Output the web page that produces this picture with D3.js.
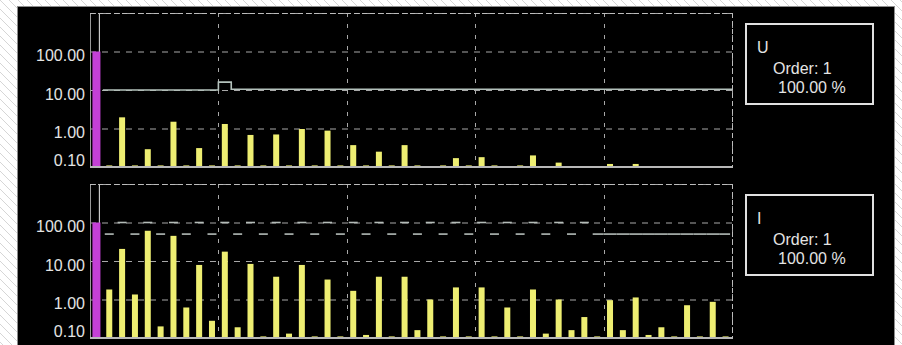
<!DOCTYPE html>
<html>
<head>
<meta charset="utf-8">
<script src="https://cdn.jsdelivr.net/npm/d3@7"></script>
<style>
  body { margin: 0; background: #fff; }
  svg { display: block; }
</style>
</head>
<body>
<div id="chart"></div>
<script>
// harmonic spectrum of U and I, log scale, orders 1..50

const orders = [1, 2, 3, 4, 5, 6, 7, 8, 9, 10,
    11, 12, 13, 14, 15, 16, 17, 18, 19, 20,
    21, 22, 23, 24, 25, 26, 27, 28, 29, 30,
    31, 32, 33, 34, 35, 36, 37, 38, 39, 40,
    41, 42, 43, 44, 45, 46, 47, 48, 49, 50];

// U, % of fundamental
const uValues = [100, 0.11, 1.95, 0.11, 0.29, 0.11, 1.5, 0.11, 0.31, 0.11,
    1.31, 0.11, 0.68, 0.11, 0.7, 0.11, 0.97, 0.11, 0.88, 0.11,
    0.37, 0.11, 0.25, 0.11, 0.37, 0.11, 0.105, 0.11, 0.17, 0.11,
    0.18, 0.11, 0.105, 0.11, 0.2, 0.105, 0.13, 0.105, 0.105, 0.105,
    0.12, 0.105, 0.12, 0.105, 0.105, 0.105, 0.105, 0.105, 0.105, 0.105];

// I, % of fundamental
const iValues = [100, 1.82, 20.6, 1.35, 61, 0.2, 45, 0.62, 7.9, 0.28,
    17.5, 0.19, 8.4, 0.11, 3.9, 0.13, 7.9, 0.11, 3.3, 0.11,
    1.68, 0.12, 3.9, 0.11, 3.9, 0.16, 1.0, 0.11, 2.06, 0.11,
    2.06, 0.11, 0.62, 0.11, 1.82, 0.13, 1.0, 0.16, 0.35, 0.11,
    0.96, 0.16, 1.13, 0.12, 0.19, 0.11, 0.71, 0.11, 0.87, 0.11];

// limit lines (none for order 1)
const uLimit = [null, 10, 10, 10, 10, 10, 10, 10, 10, 10,
    16, 10.5, 10.5, 10.5, 10.5, 10.5, 10.5, 10.5, 10.5, 10.5,
    10.5, 10.5, 10.5, 10.5, 10.5, 10.5, 10.5, 10.5, 10.5, 10.5,
    10.5, 10.5, 10.5, 10.5, 10.5, 10.5, 10.5, 10.5, 10.5, 10.5,
    10.5, 10.5, 10.5, 10.5, 10.5, 10.5, 10.5, 10.5, 10.5, 10.5];

const iLimit = [null, 50, 100, 50, 100, 50, 100, 50, 100, 50,
    100, 50, 100, 50, 100, 50, 100, 50, 100, 50,
    100, 50, 100, 50, 100, 50, 100, 50, 100, 50,
    100, 50, 100, 50, 100, 50, 100, 50, 100, 50,
    50, 50, 50, 50, 50, 50, 50, 50, 50, 50];

const yTicks = [0.1, 1, 10, 100];
const panelNames = ['U', 'I'];
const orderText = 'Order: 1';
const percentText = '100.00 %';

const W = 902, H = 345;
const plotLeft = 90, plotRight = 732, plotH = 154;
const panelTops = [13, 184];
const font = '"Liberation Sans", Arial, sans-serif';

const svg = d3.select('#chart').append('svg')
    .attr('width', W)
    .attr('height', H);

// hatched background
const defs = svg.append('defs');
const pat = defs.append('pattern')
    .attr('id', 'hatch')
    .attr('patternUnits', 'userSpaceOnUse')
    .attr('width', 9)
    .attr('height', 9);
pat.append('rect').attr('width', 9).attr('height', 9).attr('fill', '#fff');
pat.append('path')
    .attr('d', 'M-1,-1 L10,10 M-1,8 L1,10 M8,-1 L10,1')
    .attr('stroke', '#d6d6d6')
    .attr('stroke-width', 1);

svg.append('rect').attr('width', W).attr('height', H).attr('fill', 'url(#hatch)');

svg.append('rect')
    .attr('x', 17.5).attr('y', 6.5)
    .attr('width', 877).attr('height', H)
    .attr('fill', '#000')
    .attr('stroke', '#8c8c8c');

const x = d3.scaleBand()
    .domain(orders)
    .range([plotLeft, plotRight]);
const bw = x.bandwidth();

const y = d3.scaleLog()
    .domain([0.1, 1000])
    .range([plotH, 0]);

function drawPanel(top, values, name, i) {

    const g = svg.append('g')
        .attr('transform', `translate(0, ${top})`);

    // grid
    g.selectAll('.hgrid')
        .data([1, 10, 100, 1000])
        .enter()
        .append('line')
        .attr('x1', plotLeft).attr('x2', plotRight)
        .attr('y1', d => y(d) + 0.5).attr('y2', d => y(d) + 0.5)
        .attr('stroke', '#a8a8a8')
        .attr('stroke-dasharray', '6,6');

    const vgrid = [10, 20, 30, 40, 50];
    g.selectAll('.vgrid')
        .data(vgrid)
        .enter()
        .append('line')
        .attr('x1', d => Math.round(x(d) + bw) + 0.5)
        .attr('x2', d => Math.round(x(d) + bw) + 0.5)
        .attr('y1', 0).attr('y2', plotH)
        .attr('stroke', '#a8a8a8')
        .attr('stroke-dasharray', '4,7');

    // left edge and cursor
    g.append('line')
        .attr('x1', plotLeft + 0.5).attr('x2', plotLeft + 0.5)
        .attr('y1', 0).attr('y2', plotH)
        .attr('stroke', '#9a9a9a');

    g.append('line')
        .attr('x1', x(1) + bw / 2 + 3).attr('x2', x(1) + bw / 2 + 3)
        .attr('y1', 0).attr('y2', plotH)
        .attr('stroke', '#c8c8c8')
        .attr('stroke-width', 1.2);

    // limit lines
    if (i === 0) {
        const pts = [];
        orders.forEach((o, k) => {
            if (uLimit[k] == null) return;
            pts.push([x(o), uLimit[k]]);
            pts.push([x(o) + bw, uLimit[k]]);
        });
        g.append('path')
            .attr('d', d3.line().x(d => d[0]).y(d => y(d[1]))(pts))
            .attr('fill', 'none')
            .attr('stroke', '#b4c2bc')
            .attr('stroke-width', 1.6);
    } else {
        // equal neighbours join up, changing values leave a gap
        const segs = [];
        orders.forEach((o, k) => {
            const v = iLimit[k];
            if (v == null) return;
            const prevSame = k > 0 && iLimit[k - 1] === v;
            const nextSame = k < orders.length - 1 && iLimit[k + 1] === v;
            segs.push({
                x1: x(o) + (prevSame ? 0 : bw * 0.15),
                x2: x(o) + bw - (nextSame ? 0 : bw * 0.15),
                v: v
            });
        });
        g.selectAll('.lim')
            .data(segs)
            .enter()
            .append('line')
            .attr('x1', d => d.x1).attr('x2', d => d.x2)
            .attr('y1', d => y(d.v)).attr('y2', d => y(d.v))
            .attr('stroke', '#b4bcb8')
            .attr('stroke-width', 1.6);
    }

    // bars
    const data = orders.map((o, k) => ({order: o, value: values[k]}));
    g.selectAll('.bar')
        .data(data)
        .enter()
        .append('rect')
        .attr('class', 'bar')
        .attr('x', d => x(d.order) + bw / 2 - (d.order === 1 ? 4 : 3))
        .attr('width', d => d.order === 1 ? 8 : 6)
        .attr('y', d => y(d.value))
        .attr('height', d => plotH - y(d.value))
        .attr('fill', d => d.order === 1 ? '#c440d6' : '#eeee72');

    // frame top / right dashed, baseline solid
    g.append('line')
        .attr('x1', plotLeft).attr('x2', plotRight)
        .attr('y1', 0.5).attr('y2', 0.5)
        .attr('stroke', '#bcbcbc')
        .attr('stroke-dasharray', '5,3');
    g.append('line')
        .attr('x1', plotRight + 0.5).attr('x2', plotRight + 0.5)
        .attr('y1', 0).attr('y2', plotH)
        .attr('stroke', '#bcbcbc')
        .attr('stroke-dasharray', '5,3');
    g.append('line')
        .attr('x1', plotLeft).attr('x2', plotRight + 1)
        .attr('y1', plotH).attr('y2', plotH)
        .attr('stroke', '#b8b8b8')
        .attr('stroke-width', 2);

    // y axis labels
    const axis = g.append('g')
        .attr('transform', `translate(${plotLeft}, 0)`)
        .call(d3.axisLeft(y).tickValues(yTicks).tickFormat(d3.format('.2f')).tickSize(0).tickPadding(5));
    axis.select('.domain').remove();
    axis.selectAll('text')
        .attr('transform', d => d === 0.1 ? 'translate(0,-7)' : 'translate(0,4)')
        .style('font-family', font)
        .style('font-size', '16px')
        .style('fill', '#e4e4e4');

    // info box
    const box = g.append('g').attr('transform', 'translate(746, 11)');
    box.append('rect')
        .attr('width', 127).attr('height', 80)
        .attr('fill', 'none')
        .attr('stroke', '#e0e0e0')
        .attr('stroke-width', 2);
    box.append('text').attr('x', 11).attr('y', 29).text(name);
    box.append('text').attr('x', 27).attr('y', 50).text(orderText);
    box.append('text').attr('x', 32).attr('y', 69).text(percentText);
    box.selectAll('text')
        .style('font-family', font)
        .style('font-size', '16px')
        .style('fill', '#e4e4e4');
}

drawPanel(panelTops[0], uValues, panelNames[0], 0);
drawPanel(panelTops[1], iValues, panelNames[1], 1);
</script>
</body>
</html>
